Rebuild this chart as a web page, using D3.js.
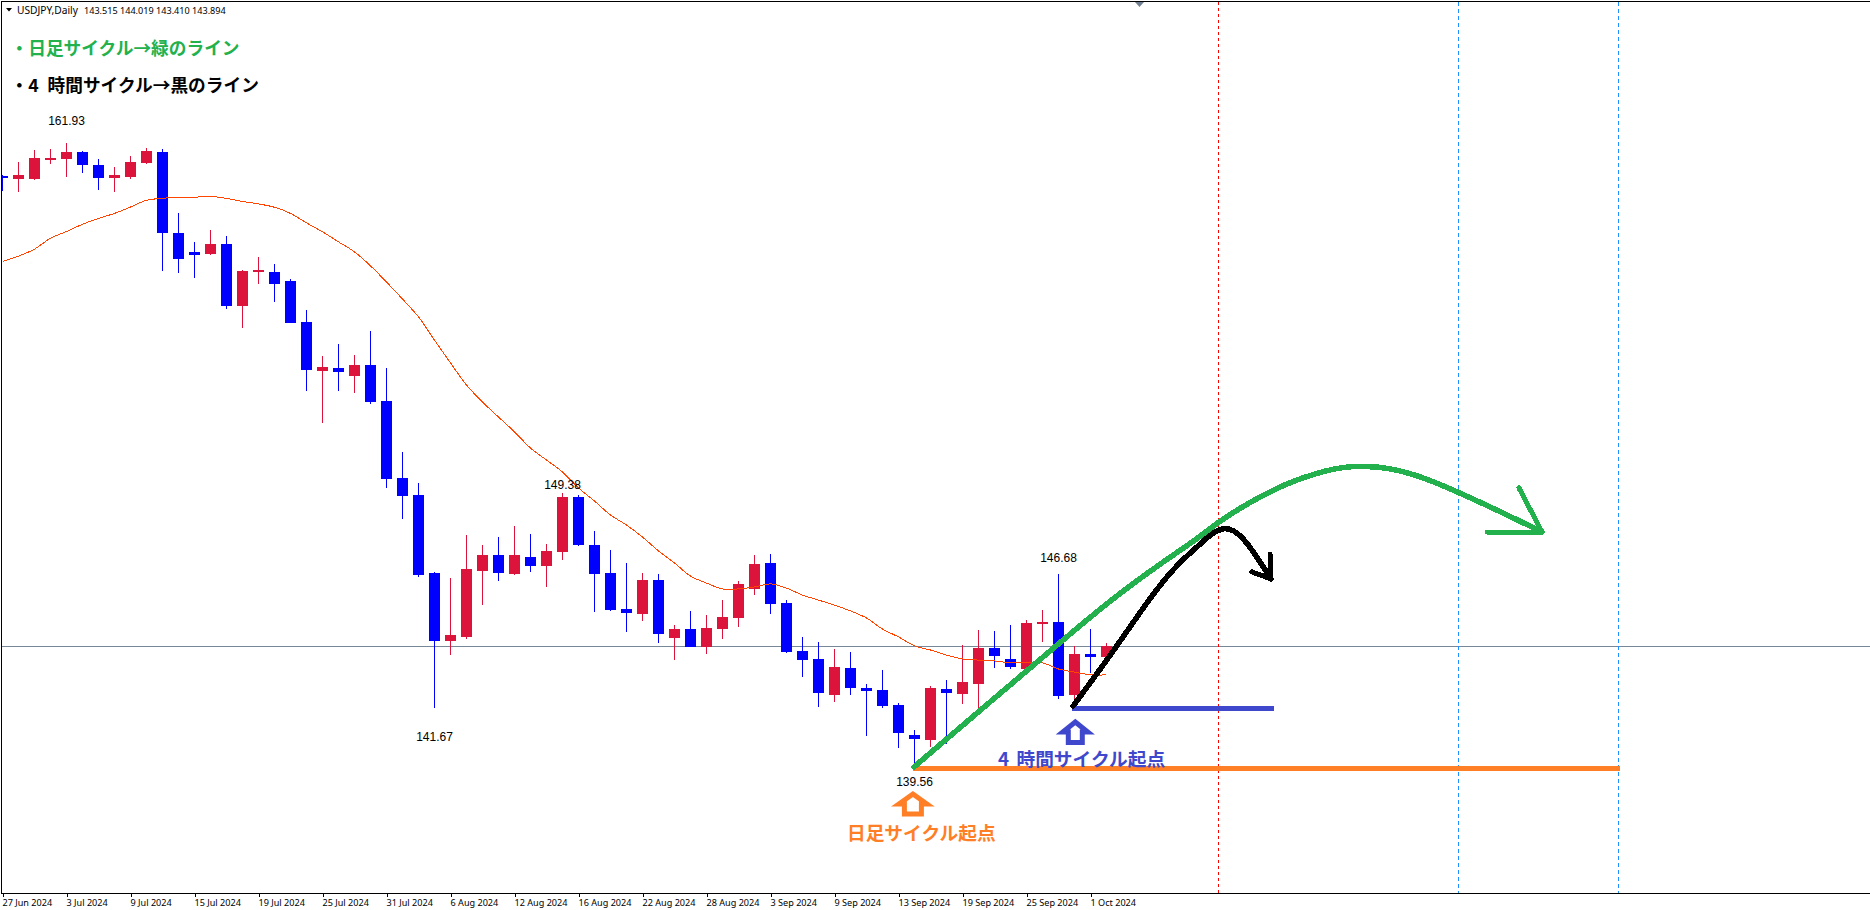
<!DOCTYPE html>
<html><head><meta charset="utf-8">
<script src="https://cdn.jsdelivr.net/npm/d3@7"></script>
<style>
html,body{margin:0;padding:0;background:#fff;overflow:hidden}
svg{display:block}
</style></head><body><svg id="c" width="1870" height="910"></svg>
<script>
const symbolLine = "USDJPY,Daily";
const lastQuote = "143.515 144.019 143.410 143.894";
const tickLabels = ["27 Jun 2024","3 Jul 2024","9 Jul 2024","15 Jul 2024","19 Jul 2024","25 Jul 2024","31 Jul 2024","6 Aug 2024","12 Aug 2024","16 Aug 2024","22 Aug 2024","28 Aug 2024","3 Sep 2024","9 Sep 2024","13 Sep 2024","19 Sep 2024","25 Sep 2024","1 Oct 2024"];
const barsPerTick = 4;
const open = [160.75,160.64,160.64,161.33,161.36,161.61,161.15,160.68,160.72,161.22,161.61,158.71,158.03,157.96,158.31,156.09,157.31,157.31,156.99,155.52,153.76,153.87,153.58,153.98,152.69,149.93,149.32,146.52,144.09,144.23,146.59,147.17,146.49,147.10,146.77,147.27,149.25,147.53,146.52,145.23,145.05,146.27,144.19,144.51,143.87,144.51,144.91,145.95,146.88,145.45,143.73,143.44,142.15,143.12,142.40,142.33,141.79,140.72,140.54,142.36,142.19,142.54,143.83,143.44,143.08,144.69,144.77,142.15,143.62,143.515];
const high = [160.79,161.25,161.68,161.72,161.93,161.65,161.36,161.07,161.47,161.76,161.72,159.43,158.39,158.82,158.60,157.38,157.85,157.60,157.06,155.95,154.30,154.73,154.34,155.20,153.87,150.86,149.75,146.56,146.34,147.88,147.53,147.81,148.21,147.92,147.56,149.38,149.32,148.03,147.35,146.88,146.52,146.49,144.66,145.16,145.02,145.55,146.23,147.17,147.20,145.55,144.23,144.05,143.80,143.69,142.54,143.05,141.86,140.89,142.47,142.69,143.94,144.48,144.44,144.66,144.84,145.20,146.49,143.91,144.51,144.019];
const low = [160.21,160.18,160.61,161.18,160.72,160.86,160.25,160.18,160.64,161.18,157.35,157.28,157.10,157.92,155.98,155.30,156.88,156.24,155.48,153.06,151.90,153.06,152.97,152.58,149.57,148.46,146.38,141.67,143.58,144.16,145.38,146.24,146.45,146.56,146.02,146.99,147.49,145.12,145.16,144.41,144.80,144.01,143.40,143.87,143.62,144.16,144.59,145.73,145.05,143.65,142.79,141.72,141.90,142.15,140.68,141.68,140.25,139.56,140.29,140.39,141.83,141.68,143.12,143.08,143.08,144.05,142.01,141.90,142.94,143.41];
const close = [160.68,160.79,161.40,161.40,161.61,161.15,160.68,160.79,161.25,161.65,158.71,157.78,157.92,158.31,156.09,157.35,157.38,156.88,155.48,153.80,153.91,153.73,153.98,152.65,149.89,149.28,146.45,144.09,144.30,146.67,147.17,146.52,147.17,146.77,147.31,149.25,147.53,146.49,145.20,145.09,146.27,144.34,144.51,143.87,144.55,144.94,146.13,146.84,145.41,143.69,143.40,142.22,143.15,142.40,142.29,141.75,140.79,140.57,142.40,142.22,142.62,143.83,143.55,143.15,144.73,144.77,142.11,143.62,143.51,143.894];
const movingAverage = [157.69,157.88,158.13,158.52,158.76,159.02,159.23,159.41,159.64,159.88,159.95,159.99,159.99,160.02,159.95,159.84,159.75,159.63,159.41,159.07,158.75,158.39,158.03,157.53,156.95,156.34,155.70,154.87,154.05,153.26,152.65,152.11,151.58,151.00,150.57,150.14,149.57,149.10,148.60,148.24,147.81,147.31,146.88,146.41,146.16,145.95,145.95,146.02,146.13,145.98,145.73,145.55,145.37,145.16,144.91,144.51,144.23,143.91,143.76,143.58,143.44,143.40,143.37,143.30,143.30,143.30,143.08,142.97,142.87,142.87];
const currentPrice = 143.894;
const redCycleBars = [76];
const blueCycleBars = [91,101];
const priceLabels = ["161.93","149.38","146.68","141.67","139.56"];
const greenCurveBars = [56.97,61.72,65.91,69.41,72.53,74.84,75.97,77.97,80.28,82.34,83.78,85.03,86.72,88.78,90.97,93.41,96.22];
const greenCurvePrices = [139.57,141.90,143.94,145.63,146.92,147.81,148.35,149.07,149.75,150.14,150.32,150.36,150.29,149.96,149.42,148.78,147.99];
const blackCurveBars = [66.91,69.03,70.47,72.16,73.59,74.66,75.66,76.28,76.91,77.78,78.59,79.28];
const blackCurvePrices = [141.75,143.40,144.59,145.98,146.92,147.45,147.99,148.13,148.10,147.63,146.92,146.31];

const upColor="#DC143C", downColor="#0000FF", maColor="#FF4500";
const green="#22B14C", orange="#FF7F27", indigo="#3F48CC";
const jp="'Noto Sans CJK JP','Noto Sans',sans-serif";

const svg=d3.select("#c");
const x=d3.scaleLinear().domain([0,69]).range([2.5,1106.5]);
const y=d3.scaleLinear().domain([161.93,139.56]).range([143.1,767.2]);
const bars=d3.range(open.length);

// frame
svg.append("rect").attr("width",1870).attr("height",910).attr("fill","#fff");
const frame=svg.append("g").attr("shape-rendering","crispEdges");
frame.append("line").attr("x1",1).attr("x2",1870).attr("y1",1.5).attr("y2",1.5).attr("stroke","#000");
frame.append("line").attr("x1",1.5).attr("x2",1.5).attr("y1",1).attr("y2",893).attr("stroke","#000");

// axis
const tickBars=tickLabels.map((_,i)=>i*barsPerTick);
const ax=svg.append("g").attr("transform","translate(0,893.5)")
  .call(d3.axisBottom(x).tickValues(tickBars).tickFormat((d,i)=>tickLabels[i]).tickSize(3).tickSizeOuter(0).tickPadding(3));
ax.select(".domain").attr("d","M1,0H1870").attr("stroke","#000").attr("shape-rendering","crispEdges");
ax.selectAll(".tick line").attr("stroke","#000").attr("shape-rendering","crispEdges");
ax.selectAll(".tick text").attr("text-anchor","start").attr("dx",-0.5).attr("fill","#000")
  .style("font","9.1px 'Noto Sans',sans-serif");

// current price line
frame.append("line").attr("x1",2).attr("x2",1870).attr("y1",Math.floor(y(currentPrice))+.5).attr("y2",Math.floor(y(currentPrice))+.5).attr("stroke","#778899");

// candles
const plot=svg.append("g").attr("clip-path","url(#clip)");
svg.append("clipPath").attr("id","clip").append("rect").attr("x",2).attr("y",2).attr("width",1868).attr("height",891);
const candle=plot.append("g").attr("shape-rendering","crispEdges").selectAll("g").data(bars).join("g")
  .attr("fill",i=>close[i]>=open[i]?upColor:downColor);
candle.append("rect").attr("x",i=>x(i)-.5).attr("width",1)
  .attr("y",i=>y(high[i])).attr("height",i=>y(low[i])-y(high[i]));
candle.append("rect").attr("x",i=>x(i)-5.5).attr("width",11)
  .attr("y",i=>y(Math.max(open[i],close[i]))).attr("height",i=>Math.max(1,Math.abs(y(open[i])-y(close[i]))));

// moving average
plot.append("path").datum(bars).attr("fill","none").attr("stroke",maColor).attr("stroke-width",1)
  .attr("shape-rendering","crispEdges")
  .attr("d",d3.line().curve(d3.curveCatmullRom).x(i=>x(i)).y(i=>y(movingAverage[i])));

// cycle verticals
const vline=(b,c,dash)=>plot.append("line").attr("x1",x(b)).attr("x2",x(b)).attr("y1",2).attr("y2",893)
  .attr("stroke",c).attr("stroke-dasharray",dash).attr("shape-rendering","crispEdges");
redCycleBars.forEach(b=>vline(b,"#FF0000","3 3"));
blueCycleBars.forEach(b=>vline(b,"#1E90FF","4 3"));

// small grey marker on top
svg.append("path").attr("d",d3.line()([[1135,2],[1144,2],[1139.5,7]])).attr("fill","#708090");

// price labels
const labelPlace=[[4,161.93,-22],[35,149.38,-8],[66,146.49,-16],[27,141.67,28.5],[57,139.56,15]];
svg.append("g").selectAll("text").data(priceLabels).join("text")
  .attr("x",(d,i)=>x(labelPlace[i][0])).attr("y",(d,i)=>y(labelPlace[i][1])+labelPlace[i][2])
  .attr("text-anchor","middle").attr("dominant-baseline","central")
  .style("font","12px 'Liberation Sans',Arial,sans-serif").attr("fill","#000").text(d=>d);

// symbol header
svg.append("path").attr("d",d3.line()([[6,8],[12,8],[9,11.5]])).attr("fill","#000");
svg.append("text").attr("x",17).attr("y",14).style("font","10.2px 'Noto Sans',sans-serif").attr("fill","#000").text(symbolLine);
svg.append("text").attr("x",84).attr("y",14).style("font","9.1px 'Noto Sans',sans-serif").attr("fill","#000").text(lastQuote);

// freehand overlay
const over=svg.append("g").attr("fill","none").attr("stroke-linecap","round").attr("stroke-linejoin","round").attr("shape-rendering","crispEdges");
const pts=(bx,py)=>bx.map((b,i)=>[x(b),y(py[i])]);
const curve=d3.line().curve(d3.curveBasis);
over.append("line").attr("x1",x(56.9)).attr("x2",x(101.1)).attr("y1",y(139.52)).attr("y2",y(139.52))
  .attr("stroke",orange).attr("stroke-width",5).attr("stroke-linecap","butt");
over.append("line").attr("x1",x(66.84)).attr("x2",x(79.47)).attr("y1",y(141.65)).attr("y2",y(141.65))
  .attr("stroke",indigo).attr("stroke-width",5).attr("stroke-linecap","butt");
over.append("path").attr("d",curve(pts(blackCurveBars,blackCurvePrices))).attr("stroke","#000").attr("stroke-width",5.5);
over.append("path").attr("d",d3.line()(pts([79.22,79.28,78.09],[147.20,146.31,146.56]))).attr("stroke","#000").attr("stroke-width",5);
over.append("path").attr("d",curve(pts(greenCurveBars,greenCurvePrices))).attr("stroke",green).attr("stroke-width",5.5);
over.append("path").attr("d",d3.line()(pts([94.78,96.22,92.78],[149.57,147.99,147.99]))).attr("stroke",green).attr("stroke-width",5);

// up block arrows
function upArrow(cx,tip,c,wing,shaft,h){
  const p=[[0,0],[wing,10],[shaft,10],[shaft,h],[-shaft,h],[-shaft,10],[-wing,10]].map(([a,b])=>[cx+a,tip+b]);
  svg.append("path").attr("d",d3.line()(p)+"Z").attr("fill","#fff").attr("stroke",c).attr("stroke-width",5).attr("stroke-linejoin","miter");
}
upArrow(x(67.05),722,indigo,12.5,7,20.5);
upArrow(x(56.9),794,orange,14,8.5,20);

// Japanese notes
function note(first,second,px,tabx,py,c,size){
  const t=svg.append("text").attr("x",px).attr("y",py).attr("fill",c).attr("dominant-baseline","central")
    .style("font",`700 ${size}px ${jp}`).text(first);
  if(second) t.append("tspan").attr("x",tabx).text(second);
}
note("・日足サイクル→緑のライン",null,10.5,0,46.5,green,17.7);
note("・4","時間サイクル→黒のライン",10.5,47.5,84,"#000",17.7);
note("4","時間サイクル起点",998,1016.5,757,indigo,18.7);
note("日足サイクル起点",null,847,0,831,orange,18.7);
</script></body></html>
